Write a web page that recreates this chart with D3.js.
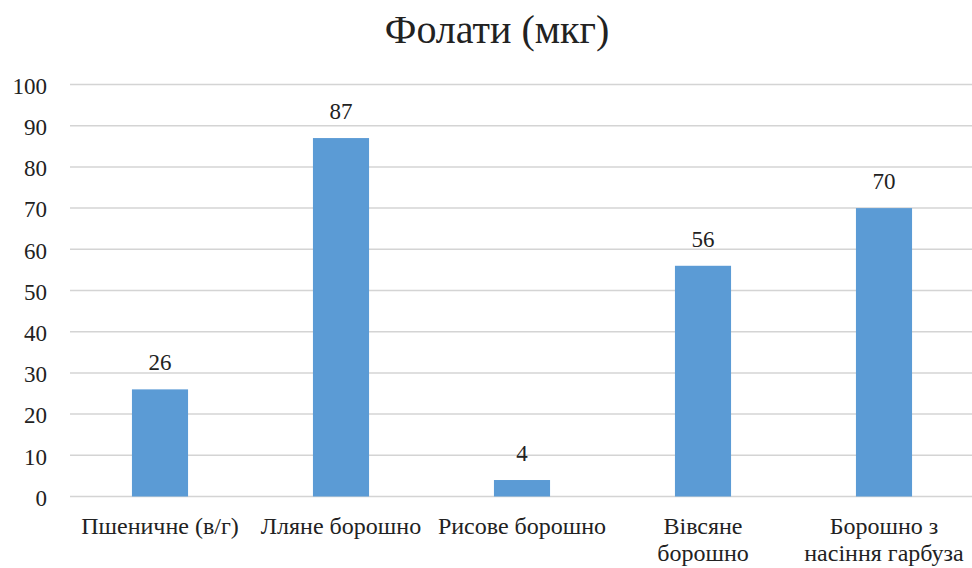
<!DOCTYPE html>
<html>
<head>
<meta charset="utf-8">
<title>Фолати</title>
<script src="https://d3js.org/d3.v7.min.js"></script>
</head>
<body style="margin:0; background:#fff">
<div id="chart"></div>
<script>
// data
let categories = ["Пшеничне (в/г)", "Лляне борошно", "Рисове борошно", "Вівсяне\nборошно", "Борошно з\nнасіння гарбуза"]
let values = [26, 87, 4, 56, 70]
let yTicks = [0, 10, 20, 30, 40, 50, 60, 70, 80, 90, 100]
let title = "Фолати (мкг)"

let W = 972, H = 568
let serif = "'Liberation Serif', 'Times New Roman', serif"

let svg = d3.select("#chart").append("svg")
    .attr("width", W)
    .attr("height", H)

let x = d3.scaleBand()
    .domain(d3.range(categories.length))
    .range([69.5, 974.5])
    .paddingInner(0.69)
    .paddingOuter(0.345)

let y = d3.scaleLinear()
    .domain([0, 100])
    .range([496.5, 84.5])

// gridlines
svg.append("g")
  .selectAll("line")
  .data(yTicks)
  .join("line")
    .attr("x1", 70)
    .attr("x2", W)
    .attr("y1", d => y(d))
    .attr("y2", d => y(d))
    .attr("stroke", "#d4d4d4")
    .attr("stroke-width", 1.5)

// y axis labels
let yAxis = d3.axisLeft(y).tickValues(yTicks).tickSize(0).tickPadding(0)
svg.append("g")
    .attr("transform", "translate(47,0)")
    .call(yAxis)
    .call(g => g.select(".domain").remove())
    .selectAll("text")
    .attr("dy", "0.38em")
    .style("font-size", "23px")
    .style("font-family", serif)
    .style("fill", "#222")

// bars
svg.selectAll("rect.bar")
  .data(values)
  .join("rect")
    .attr("class", "bar")
    .attr("x", (d, i) => x(i))
    .attr("width", x.bandwidth())
    .attr("y", d => y(d))
    .attr("height", d => y(0) - y(d))
    .attr("fill", "#5b9bd5")

// value labels
svg.selectAll("text.val")
  .data(values)
  .join("text")
    .attr("class", "val")
    .attr("x", (d, i) => x(i) + x.bandwidth() / 2)
    .attr("y", d => y(d) - 19)
    .attr("text-anchor", "middle")
    .style("font-size", "23px")
    .style("font-family", serif)
    .style("fill", "#222")
    .text(d => d)

// category labels
let cat = svg.selectAll("text.cat")
  .data(categories)
  .join("text")
    .attr("class", "cat")
    .attr("x", (d, i) => x(i) + x.bandwidth() / 2)
    .attr("y", 534)
    .attr("text-anchor", "middle")
    .style("font-size", "24px")
    .style("font-family", serif)
    .style("fill", "#222")

cat.selectAll("tspan")
  .data(d => d.split("\n"))
  .join("tspan")
    .attr("x", function() { return d3.select(this.parentNode).attr("x") })
    .attr("dy", (d, i) => i === 0 ? 0 : 27)
    .text(d => d)

// title
svg.append("text")
    .attr("x", 497)
    .attr("y", 43)
    .attr("text-anchor", "middle")
    .style("font-size", "40px")
    .style("font-family", serif)
    .style("fill", "#222")
    .text(title)
</script>
</body>
</html>
